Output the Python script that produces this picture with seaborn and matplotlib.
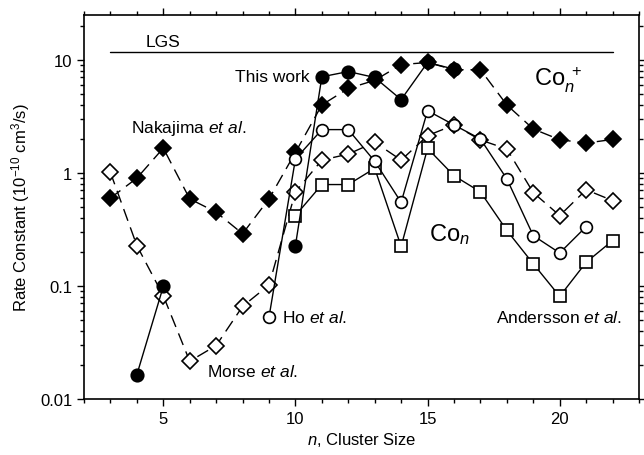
import numpy as np
import pandas as pd
import matplotlib
matplotlib.use("Agg")
import matplotlib.pyplot as plt
import matplotlib.ticker as mticker
import seaborn as sns

# ---------------- data ----------------
# Nakajima et al. (Co_n^+), filled diamonds, dashed
n_nak = [3, 4, 5, 6, 7, 8, 9, 10, 11, 12, 13, 14, 15, 16, 17, 18, 19, 20, 21, 22]
k_nak = [0.60, 0.90, 1.66, 0.59, 0.45, 0.29, 0.59, 1.52, 4.0, 5.6, 6.6, 9.1, 9.5, 8.2,
         8.2, 4.0, 2.45, 1.97, 1.84, 1.98]

# Morse et al. (Co_n), open diamonds, dashed
n_mor = [3, 4, 5, 6, 7, 8, 9, 10, 11, 12, 13, 14, 15, 16, 17, 18, 19, 20, 21, 22]
k_mor = [1.01, 0.228, 0.082, 0.0216, 0.0297, 0.066, 0.102, 0.68, 1.30, 1.47, 1.87, 1.30,
         2.14, 2.66, 1.96, 1.63, 0.67, 0.42, 0.71, 0.57]

# Andersson et al. (Co_n), open squares, solid
n_and = [10, 11, 12, 13, 14, 15, 16, 17, 18, 19, 20, 21, 22]
k_and = [0.42, 0.79, 0.79, 1.10, 0.224, 1.65, 0.946, 0.68, 0.31, 0.157, 0.081, 0.162, 0.252]

# Ho et al. (Co_n), open circles, solid
n_ho = [9, 10, 11, 12, 13, 14, 15, 16, 17, 18, 19, 20, 21]
k_ho = [0.053, 1.33, 2.42, 2.42, 1.27, 0.55, 3.56, 2.66, 2.0, 0.886, 0.279, 0.196, 0.335]

# This work (Co_n^+), filled circles, solid; two connected segments
n_tw = [4, 5, 10, 11, 12, 13, 14, 15, 16]
k_tw = [0.0164, 0.099, 0.228, 7.1, 7.9, 7.0, 4.46, 9.5, 8.3]
seg_tw = [0, 0, 1, 1, 1, 1, 1, 1, 1]

lgs_n = [3, 22]
lgs_k = [11.8, 11.8]

# ---------------- style ----------------
sns.set_theme(style="ticks")
plt.rcParams["font.family"] = ["Liberation Sans", "DejaVu Sans"]
plt.rcParams["mathtext.fontset"] = "custom"
plt.rcParams["mathtext.rm"] = "Liberation Sans"
plt.rcParams["mathtext.it"] = "Liberation Sans:italic"
plt.rcParams["mathtext.default"] = "regular"
for key in ["text.color", "axes.labelcolor", "xtick.color", "ytick.color", "axes.edgecolor"]:
    plt.rcParams[key] = "black"

fig = plt.figure(figsize=(6.44, 4.56), dpi=100)
ax = fig.add_axes([84 / 644, 1 - 400 / 456, (639 - 84) / 644, (400 - 16) / 456])

lw = 1.0
dash = (0, (9, 5))

def draw(n, k, marker, fill, ls, size, z, units=None):
    df = pd.DataFrame({"n": n, "k": k})
    kw = {}
    if units is not None:
        df["u"] = units
        kw["units"] = "u"
    sns.lineplot(data=df, x="n", y="k", ax=ax, color="black", linewidth=lw,
                 linestyle=ls, marker=marker, markersize=size,
                 markerfacecolor=fill, markeredgecolor="black",
                 markeredgewidth=1.2, zorder=z, estimator=None, sort=False, **kw)

draw(n_mor, k_mor, "D", "white", dash, 8, 2)
draw(n_nak, k_nak, "D", "black", dash, 8.5, 3)
draw(n_and, k_and, "s", "white", "-", 8, 4)
draw(n_ho, k_ho, "o", "white", "-", 8.5, 5)
draw(n_tw, k_tw, "o", "black", "-", 9, 6, units=seg_tw)

sns.lineplot(x=lgs_n, y=lgs_k, ax=ax, color="black", linewidth=1.0, zorder=1)

ax.set_yscale("log")
ax.set_xlim(2, 23)
ax.set_ylim(0.01, 25)

ax.xaxis.set_major_locator(mticker.MultipleLocator(5))
ax.xaxis.set_minor_locator(mticker.MultipleLocator(1))
ax.yaxis.set_major_locator(mticker.FixedLocator([0.01, 0.1, 1, 10]))
ax.yaxis.set_minor_locator(mticker.LogLocator(base=10, subs=np.arange(2, 10)))
ax.yaxis.set_major_formatter(mticker.FixedFormatter(["0.01", "0.1", "1", "10"]))
ax.yaxis.set_minor_formatter(mticker.NullFormatter())

ax.tick_params(which="both", direction="out", top=True, right=True, colors="black",
               labelsize=12, width=1.0)
ax.tick_params(which="major", length=5)
ax.tick_params(which="minor", length=3)
for s in ax.spines.values():
    s.set_linewidth(1.2)
    s.set_color("black")

ax.set_xlabel("$\\it{n}$, Cluster Size", fontsize=12, labelpad=3)
ax.set_ylabel("Rate Constant (10$^{-10}$ cm$^{3}$/s)", fontsize=12, labelpad=6)

# annotations
fs = 12.5
ax.text(5, 14.7, "LGS", fontsize=fs, ha="center", va="center")
ax.text(10.55, 7.2, "This work", fontsize=fs, ha="right", va="center")
ax.text(3.77, 2.55, "Nakajima $\\it{et\\ al}$.", fontsize=fs, ha="left", va="center")
ax.text(19.03, 6.8, "Co$_{\\it{n}}^{\\ +}$", fontsize=17, ha="left", va="center")
ax.text(15.05, 0.29, "Co$_{\\it{n}}$", fontsize=17, ha="left", va="center")
ax.text(9.48, 0.053, "Ho $\\it{et\\ al}$.", fontsize=fs, ha="left", va="center")
ax.text(6.66, 0.0177, "Morse $\\it{et\\ al}$.", fontsize=fs, ha="left", va="center")
ax.text(17.6, 0.053, "Andersson $\\it{et\\ al}$.", fontsize=fs, ha="left", va="center")

fig.savefig("out.png", dpi=100)
